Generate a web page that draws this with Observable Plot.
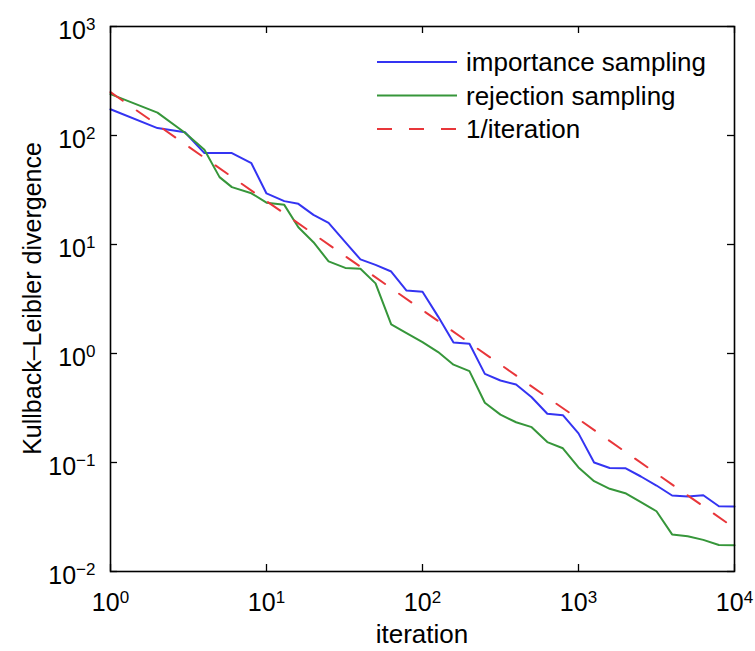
<!DOCTYPE html>
<html><head><meta charset="utf-8">
<script src="https://cdn.jsdelivr.net/npm/d3@7"></script>
<script src="https://cdn.jsdelivr.net/npm/@observablehq/plot@0.6"></script>
<style>body{margin:0;background:#fff}</style>
</head><body><div id="chart"></div>
<script>
// ---- data ----
const iterations = [1,2,3,4,5,6,8,10,13,16,20,25,32,40,50,63,79,100,126,158,200,251,316,398,501,631,794,1000,1259,1585,1995,2512,3162,3981,5012,6310,7943,10000];
const importanceSampling = [174,117,107,69,69,69,55.7,29.4,25,23.6,18.7,15.8,10.5,7.3,6.5,5.65,3.78,3.68,2.18,1.26,1.23,0.65,0.565,0.52,0.397,0.28,0.272,0.185,0.10,0.089,0.0887,0.0744,0.0615,0.0498,0.0488,0.0501,0.0397,0.0395];
const rejectionSampling = [240,162,106,74,41.5,33.6,29.5,24.2,23.1,14.4,10.5,7.0,6.1,6.0,4.4,1.85,1.54,1.27,1.03,0.79,0.69,0.353,0.275,0.234,0.211,0.154,0.135,0.09,0.0674,0.0574,0.0523,0.0432,0.0357,0.0219,0.0211,0.0195,0.0175,0.0174];
const referenceX = [1, 10000];
const referenceY = [250, 0.025];
const xTicks = [1,10,100,1000,10000];
const yTicks = [0.01,0.1,1,10,100,1000];
const seriesNames = ["importance sampling","rejection sampling","1/iteration"];
const seriesColors = ["#3434f2","#36963a","#e8363a"];

const W = 755, H = 651, mL = 110, mR = 21, mT = 26, mB = 80;
const PW = W - mL - mR, PH = H - mT - mB, TK = 7;
const expFmt = d => "10^" + String(Math.round(Math.log10(d))).replace("-", "\u2212");

const chart = Plot.plot({
  width: W, height: H,
  marginLeft: mL, marginRight: mR, marginTop: mT, marginBottom: mB,
  style: {fontFamily: "'Liberation Sans', Arial, sans-serif", fontSize: "25px", color: "black", background: "white", overflow: "visible"},
  x: {type: "log", domain: [1, 10000]},
  y: {type: "log", domain: [0.01, 1000]},
  marks: [
    Plot.line(iterations, {x: d => d, y: (d, i) => importanceSampling[i], stroke: seriesColors[0], strokeWidth: 2}),
    Plot.line(iterations, {x: d => d, y: (d, i) => rejectionSampling[i], stroke: seriesColors[1], strokeWidth: 2}),
    Plot.line(referenceX, {x: d => d, y: (d, i) => referenceY[i], stroke: seriesColors[2], strokeWidth: 2, strokeDasharray: "15,17"}),
    Plot.axisX(xTicks, {anchor: "bottom", tickSize: 0, tickPadding: 22, tickFormat: expFmt, label: null, fontSize: 25}),
    Plot.axisY(yTicks, {anchor: "left", tickSize: 0, tickPadding: 15, tickFormat: expFmt, label: null, fontSize: 25, dy: 4}),
    // inward tick marks on all four sides
    Plot.tickX(xTicks, {x: d => d, stroke: "black", strokeWidth: 1.3, insetTop: PH - TK}),
    Plot.tickX(xTicks, {x: d => d, stroke: "black", strokeWidth: 1.3, insetBottom: PH - TK}),
    Plot.tickY(yTicks, {y: d => d, stroke: "black", strokeWidth: 1.3, insetRight: PW - TK}),
    Plot.tickY(yTicks, {y: d => d, stroke: "black", strokeWidth: 1.3, insetLeft: PW - TK}),
    Plot.frame({stroke: "black", strokeWidth: 1.6})
  ]
});

const svg = d3.select(chart);
svg.selectAll("text").each(function () {
  const t = this.textContent;
  const m = t.match(/^10\^(.+)$/);
  if (!m) return;
  const s = d3.select(this);
  s.text(null);
  s.append("tspan").text("10");
  s.append("tspan").attr("dy", "-0.5em").attr("font-size", "17px").text(m[1]);
});

// axis titles
svg.append("text").attr("x", (mL + W - mR) / 2).attr("y", 643)
  .attr("text-anchor", "middle").attr("font-size", 26).text("iteration");
svg.append("text").attr("transform", `translate(41,${(mT + H - mB) / 2}) rotate(-90)`)
  .attr("text-anchor", "middle").attr("font-size", 25).text("Kullback\u2013Leibler divergence");

// legend
const lg = svg.append("g").attr("text-anchor", "start");
seriesNames.forEach((name, i) => {
  const y = 62 + i * 33.5;
  lg.append("line").attr("x1", 377).attr("x2", 457).attr("y1", y).attr("y2", y)
    .attr("stroke", seriesColors[i]).attr("stroke-width", 2)
    .attr("stroke-dasharray", i === 2 ? "15,17" : null);
  lg.append("text").attr("x", 466).attr("y", y).attr("dy", "0.35em").attr("font-size", 26).text(name);
});

document.getElementById("chart").appendChild(chart);
</script>
</body></html>
